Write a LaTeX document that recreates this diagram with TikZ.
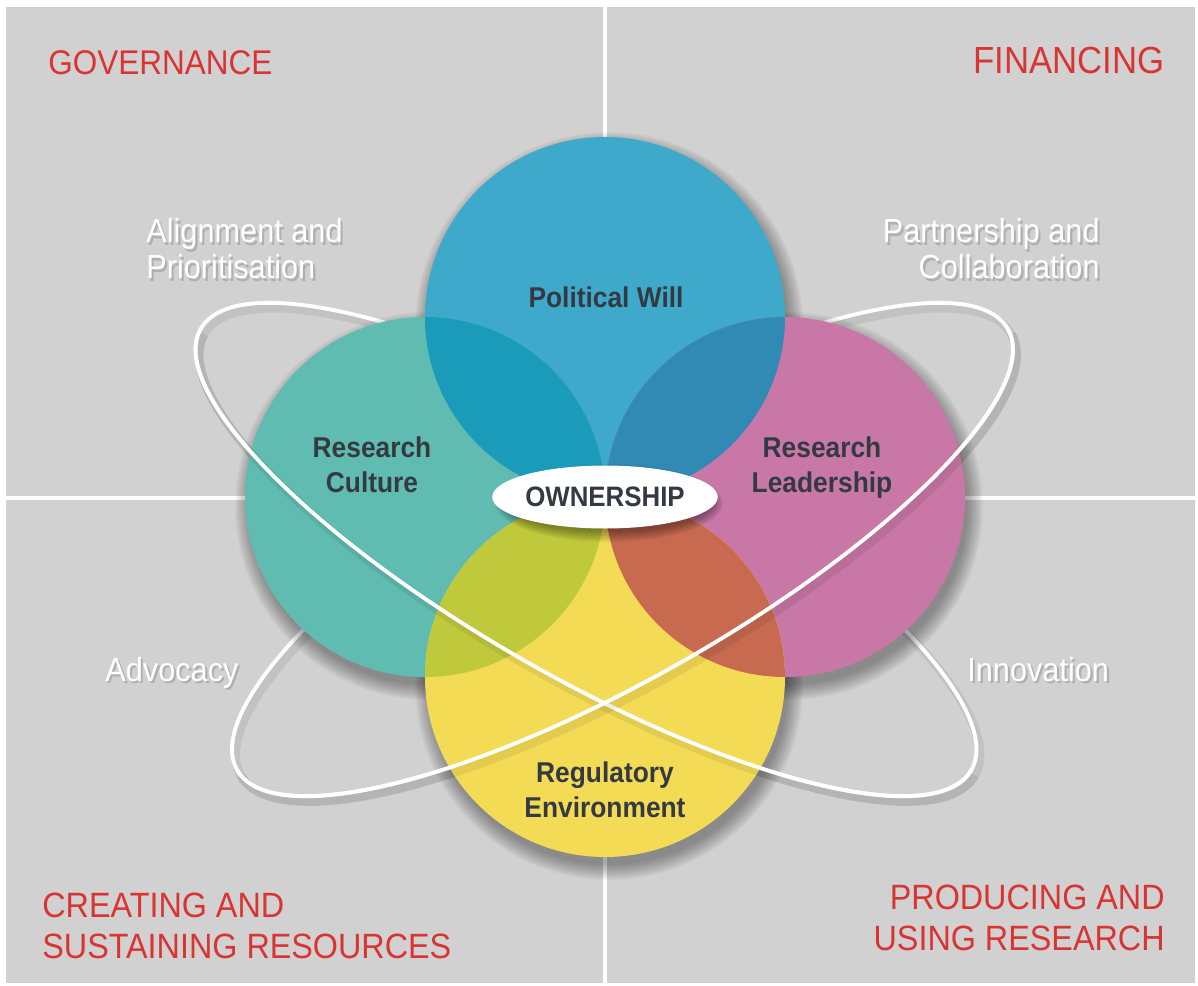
\documentclass[tikz,border=0pt]{standalone}
\usepackage{fontspec}
\setmainfont{Liberation Sans}[FakeStretch=0.92]
\usetikzlibrary{shapes.geometric}

\definecolor{panelgray}{RGB}{209,209,209}
\definecolor{headred}{RGB}{218,52,50}
\definecolor{inkgray}{RGB}{52,58,66}
\definecolor{willblue}{RGB}{62,169,202}
\definecolor{cultureteal}{RGB}{96,187,176}
\definecolor{leadpink}{RGB}{200,119,166}
\definecolor{regyellow}{RGB}{244,219,86}
\definecolor{blueteal}{RGB}{27,155,186}
\definecolor{bluepink}{RGB}{48,138,180}
\definecolor{tealyellow}{RGB}{192,201,60}
\definecolor{pinkyellow}{RGB}{200,106,80}

\tikzset{
  heading/.style={inner sep=0pt,text=headred,font=\fontsize{20}{23.2}\selectfont},
  labeltext/.style={inner sep=0pt,text=white,font=\fontsize{19}{20.5}\selectfont},
  labelshade/.style={labeltext,text=black,opacity=.16,xshift=1.2pt,yshift=-1.5pt},
  pillar/.style={inner sep=0pt,text=inkgray,align=center,font=\bfseries\fontsize{16.3}{19.9}\selectfont},
  divider/.style={draw=white,line width=2pt},
  orbit/.style={draw=white,line width=2.2pt},
  orbitshade/.style={draw=black,opacity=.07,line width=5pt},
  softshade/.style={fill=black,opacity=.03},
}

% white label with a soft dark copy under it
\newcommand\softlabel[4]{%
  \node[labelshade,#2] at (#3) {#4};
  \node[labeltext,#2] (#1) at (#3) {#4};}

\begin{document}
\begin{tikzpicture}[x=0.02cm,y=-0.02cm]
  \useasboundingbox (0,0) rectangle (1198,985);
  \fill[panelgray] (6,7) rectangle (1195,983);

  %quadrants
  \draw[divider] (605,7) -- (605,983);
  \draw[divider] (6,498) -- (1195,498);

  \coordinate (pw) at (605,317);
  \coordinate (rc) at (425,497);
  \coordinate (rl) at (785,497);
  \coordinate (re) at (605,677);

  %orbits, back side
  \foreach \ox/\tilt in {586/-29.8,622.5/29.8}{
    \draw[orbitshade,shift={(\ox,549.5)},xshift=2pt,yshift=-3pt,rotate=\tilt] (0,0) ellipse[x radius=444,y radius=127];
    \draw[orbit,shift={(\ox,549.5)},rotate=\tilt] (0,0) ellipse[x radius=444,y radius=127];
  }

  %discs, soft shadow first
  \foreach \c in {pw,rc,rl,re}
    \foreach \k in {0,...,11}
      \fill[softshade] ([shift={(4,9)}]\c) circle[radius=194-1.4*\k];
  \foreach \c/\col in {pw/willblue,rc/cultureteal,rl/leadpink,re/regyellow}
    \fill[\col] (\c) circle[radius=180];
  \begin{scope}
    \clip (pw) circle[radius=180];
    \fill[blueteal] (rc) circle[radius=180];
    \fill[bluepink] (rl) circle[radius=180];
  \end{scope}
  \begin{scope}
    \clip (re) circle[radius=180];
    \fill[tealyellow] (rc) circle[radius=180];
    \fill[pinkyellow] (rl) circle[radius=180];
  \end{scope}

  %orbits, front side
  \foreach \ox/\tilt in {586/-29.8,622.5/29.8}{
    \draw[orbitshade,shift={(\ox,549.5)},xshift=2pt,yshift=-3pt,rotate=\tilt] (444,0) arc[start angle=0,end angle=180,x radius=444,y radius=127];
    \draw[orbit,shift={(\ox,549.5)},rotate=\tilt] (444,0) arc[start angle=0,end angle=180,x radius=444,y radius=127];
  }

  %centre
  \foreach \k in {0,...,7}
    \fill[softshade,opacity=.05] (609,503) ellipse[x radius=114-1.5*\k,y radius=39-1.5*\k];
  \node[ellipse,fill=white,minimum width=4.24cm,minimum height=1.26cm,inner sep=0pt,text=inkgray,
    font=\bfseries\fontsize{16}{19}\selectfont] (own) at (605,497) {OWNERSHIP};

  \node[pillar,anchor=base] (pw-label) at (606,307) {Political Will};
  \node[pillar,anchor=north] (rc-label) at (372,436) {Research\\Culture};
  \node[pillar,anchor=north] (rl-label) at (822,436) {Research\\Leadership};
  \node[pillar,anchor=north] (re-label) at (605,761) {Regulatory\\Environment};

  \softlabel{align}{anchor=north west,align=left}{146,218}{Alignment and\\Prioritisation}
  \softlabel{partner}{anchor=north east,align=right}{1100,218}{Partnership and\\Collaboration}
  \softlabel{advocacy}{anchor=base west}{105,681}{Advocacy}
  \softlabel{innovation}{anchor=base west}{967,681}{Innovation}

  %corners
  \node[heading,anchor=north west,font=\fontsize{19.5}{23.2}\selectfont] (gov) at (48,50) {GOVERNANCE};
  \node[heading,anchor=north east,font=\fontsize{21.5}{23.2}\selectfont] (fin) at (1165,47) {FINANCING};
  \node[heading,anchor=north west,align=left] (res) at (42,893) {CREATING AND\\SUSTAINING RESOURCES};
  \node[heading,anchor=north east,align=right] (use) at (1165,885) {PRODUCING AND\\USING RESEARCH};
\end{tikzpicture}
\end{document}
